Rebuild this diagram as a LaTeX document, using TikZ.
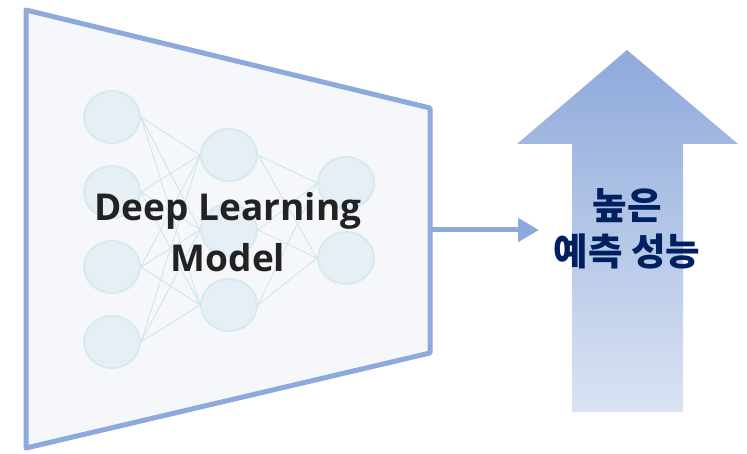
\documentclass[tikz,border=0pt]{standalone}
\usepackage{fontspec}
\newfontfamily\enfont{Open Sans}
\newfontfamily\kofont{Noto Sans CJK KR}
\usetikzlibrary{arrows.meta,shapes.geometric}
\definecolor{frameblue}{HTML}{8EA9DB}
\definecolor{framefill}{HTML}{F5F7FB}
\definecolor{neuronfill}{HTML}{E6EFF6}
\definecolor{neuronline}{HTML}{D6EBF0}
\definecolor{synapse}{HTML}{CCE5EC}
\definecolor{arrowtop}{HTML}{8EA9DB}
\definecolor{arrowbottom}{HTML}{DAE3F3}
\definecolor{navy}{HTML}{002060}
\definecolor{textdark}{HTML}{222222}
\tikzset{
  neuron/.style={ellipse, minimum width=56pt, minimum height=52pt, inner sep=0pt,
    fill=neuronfill, draw=neuronline, line width=2pt},
  synapseline/.style={draw=synapse, line width=0.8pt},
  frame/.style={draw=frameblue, fill=framefill, line width=5pt, line join=round},
  connector/.style={draw=frameblue, line width=5pt, -{Triangle[length=21pt,width=23pt]}},
}
\begin{document}
\begin{tikzpicture}[x=1pt,y=-1pt]
\useasboundingbox (0,0) rectangle (747,454);

% model outline
\draw[frame] (26,10) -- (430,108) -- (430,353) -- (26,448) -- cycle;

% network sketch inside the model
\node[neuron] (i1) at (112,117) {};
\node[neuron] (i2) at (112,192) {};
\node[neuron] (i3) at (112,267) {};
\node[neuron] (i4) at (112,342) {};
\node[neuron] (h1) at (229,155) {};
\node[neuron] (h2) at (229,230) {};
\node[neuron] (h3) at (229,305) {};
\node[neuron] (o1) at (346,183) {};
\node[neuron] (o2) at (346,258) {};
\foreach \a in {i1,i2,i3,i4}
  \foreach \b in {h1,h2,h3}
    \draw[synapseline] (\a.east) -- (\b.west);
\foreach \a in {h1,h2,h3}
  \foreach \b in {o1,o2}
    \draw[synapseline] (\a.east) -- (\b.west);

\node[text=textdark, align=center, font={\enfont\bfseries\fontsize{37}{51}\selectfont}]
  (model) at (228,232) {Deep Learning\\Model};

% output arrow
\coordinate (out) at (430,230);
\coordinate (tip) at (539,230);
\draw[connector] (out) -- (tip);

% big performance arrow
\shade[top color=arrowtop, bottom color=arrowbottom]
  (627,50) -- (738,144) -- (683,144) -- (683,412) -- (572,412) -- (572,144) -- (517,144) -- cycle;
\node[text=navy, align=center, font={\kofont\bfseries\fontsize{37.5}{46}\selectfont}]
  (perf) at (627,229) {높은\\예측 성능};
\end{tikzpicture}
\end{document}
